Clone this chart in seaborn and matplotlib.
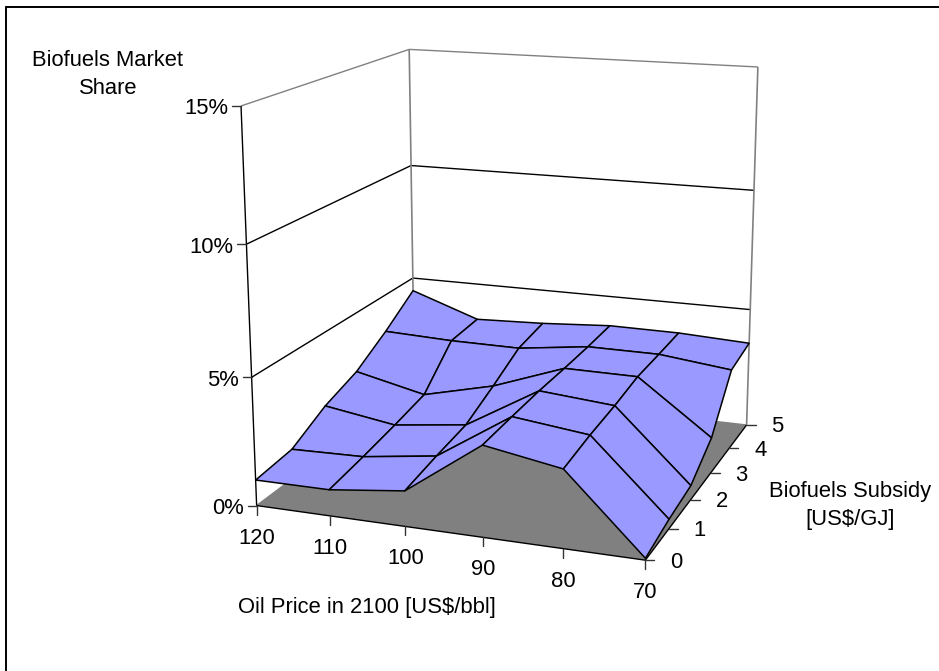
import numpy as np
import matplotlib
matplotlib.use('Agg')
import matplotlib.pyplot as plt
from matplotlib.lines import Line2D
from mpl_toolkits.mplot3d.art3d import Poly3DCollection, Line3DCollection
import seaborn as sns

# ---- data ----
oil_price = [120, 110, 100, 90, 80, 70]
subsidy = [0, 1, 2, 3, 4, 5]
share_oil_120 = [1.01, 1.19, 1.99, 2.52, 3.41, 4.43]
share_oil_110 = [1.02, 1.26, 1.54, 1.86, 3.30, 3.42]
share_oil_100 = [1.37, 1.66, 1.90, 2.56, 3.28, 3.53]
share_oil_090 = [3.48, 3.56, 3.62, 3.62, 3.65, 3.72]
share_oil_080 = [2.97, 3.21, 3.37, 3.60, 3.64, 3.70]
share_oil_070 = [0.07, 0.37, 0.57, 1.45, 3.30, 3.56]
share_ticks = [0, 5, 10, 15]
share_labels = ['0%', '5%', '10%', '15%']
share_title = ['Biofuels Market', 'Share']
subsidy_title = ['Biofuels Subsidy', '[US$/GJ]']
oil_title = 'Oil Price in 2100 [US$/bbl]'

# ---- style ----
sns.set_theme(style='white')
plt.rcParams['font.family'] = ['Liberation Sans', 'DejaVu Sans']
W, H = 939, 671
FS = 15.8
SURFACE = '#9999FF'
FLOOR = '#808080'
WALL = '#808080'
INK = '#000000'

share = np.array([share_oil_120, share_oil_110, share_oil_100,
                  share_oil_090, share_oil_080, share_oil_070])

# camera of the original chart: (category index, subsidy, share, 1) -> pixels
CAM = np.array([[68.6932043, 47.5327821, -1.9193414, 256.6346218],
                [3.0619223, -8.7951658, -27.0267801, 505.5614277],
                [-0.0140328, 0.0384595, -0.003647, 1.0]])
# oil price in US$/bbl -> category index
TO_INDEX = np.array([[-0.1, 0, 0, 12], [0, 1, 0, 0], [0, 0, 1, 0], [0, 0, 0, 1.0]])
CAM = CAM @ TO_INDEX


def project(x, y, z):
    v = CAM @ np.array([x, y, z, 1.0])
    return v[0] / v[2], v[1] / v[2]


# flip y so the screen row grows downward in the camera, upward on the axes
M = np.vstack([CAM[0],
               H * CAM[2] - CAM[1],
               CAM[2] - np.array([0, 0, 0, 1.0]),
               CAM[2]])

fig = plt.figure(figsize=(W / 100, H / 100), dpi=100, facecolor='white')
ax = fig.add_axes([0, 0, 1, 1], projection='3d', computed_zorder=False)
ax.set_axis_off()
ax.get_proj = lambda: M


def fx(x):
    return x / W


def fy(y):
    return 1 - y / H


def seg(x0, y0, x1, y1, color=INK, lw=1.0):
    fig.add_artist(Line2D([fx(x0), fx(x1)], [fy(y0), fy(y1)],
                          transform=fig.transFigure, color=color, lw=lw))


def label(x, y, s, ha='center', fs=FS):
    fig.text(fx(x), fy(y), s, ha=ha, va='center', fontsize=fs, color='black')


def line3d(p, q, color, lw, zorder):
    ax.add_collection3d(Line3DCollection([[p, q]], colors=color, linewidths=lw, zorder=zorder))


x_lo, x_hi = oil_price[0], oil_price[-1]
y_lo, y_hi = subsidy[0], subsidy[-1]
z_top = share_ticks[-1]

# floor
floor = Poly3DCollection([[(x_lo, y_lo, 0), (x_hi, y_lo, 0), (x_hi, y_hi, 0), (x_lo, y_hi, 0)]],
                         facecolor=FLOOR, edgecolor='none', zorder=1)
ax.add_collection3d(floor)

# walls
for z in share_ticks:
    c = WALL if z in (0, z_top) else INK
    line3d((x_lo, y_lo, z), (x_lo, y_hi, z), c, 1.0, 2)
    line3d((x_lo, y_hi, z), (x_hi, y_hi, z), c, 1.0, 2)
line3d((x_lo, y_hi, 0), (x_lo, y_hi, z_top), WALL, 1.2, 2)
line3d((x_hi, y_hi, 0), (x_hi, y_hi, z_top), WALL, 1.2, 2)
line3d((x_lo, y_lo, 0), (x_lo, y_lo, z_top), INK, 1.0, 2)

# axis edges of the floor
line3d((x_lo, y_lo, 0), (x_hi, y_lo, 0), INK, 1.0, 3)
line3d((x_hi, y_lo, 0), (x_hi, y_hi, 0), INK, 1.0, 3)

# surface
OIL, SUB = np.meshgrid(oil_price, subsidy, indexing='ij')
ax.plot_surface(OIL, SUB, share, rstride=1, cstride=1, color=SURFACE, shade=False,
                edgecolor=INK, linewidth=1.1, antialiased=True, zorder=4)

# drawing box of the 3D axes is forced square and centred: map it to pixels
ax.viewLim.intervalx = ((W - H) / 2, (W + H) / 2)
ax.viewLim.intervaly = (0, H)

# ticks and tick labels
for v in oil_price:
    px, py = project(v, y_lo, 0)
    seg(px, py, px, py + 9, '#333333')
    label(px, py + 32.5, str(v))
for v in subsidy:
    px, py = project(x_hi, v, 0)
    seg(px, py, px + 9, py, '#333333')
    label(px + 31, py + 2, str(v))
for v, s in zip(share_ticks, share_labels):
    px, py = project(x_lo, y_lo, v)
    seg(px - 9, py, px, py, '#333333')
    label(px - 13, py + 3, s, ha='right')

# axis titles
label(108, 60, share_title[0])
label(108, 88, share_title[1])
label(850, 491, subsidy_title[0])
label(850, 520, subsidy_title[1])
label(367, 607, oil_title)

# chart border (left and top only reach the image)
seg(6, 7, W, 7, INK, 1.4)
seg(6, 7, 6, H, INK, 1.4)

fig.savefig('out.png', dpi=100, facecolor='white')
